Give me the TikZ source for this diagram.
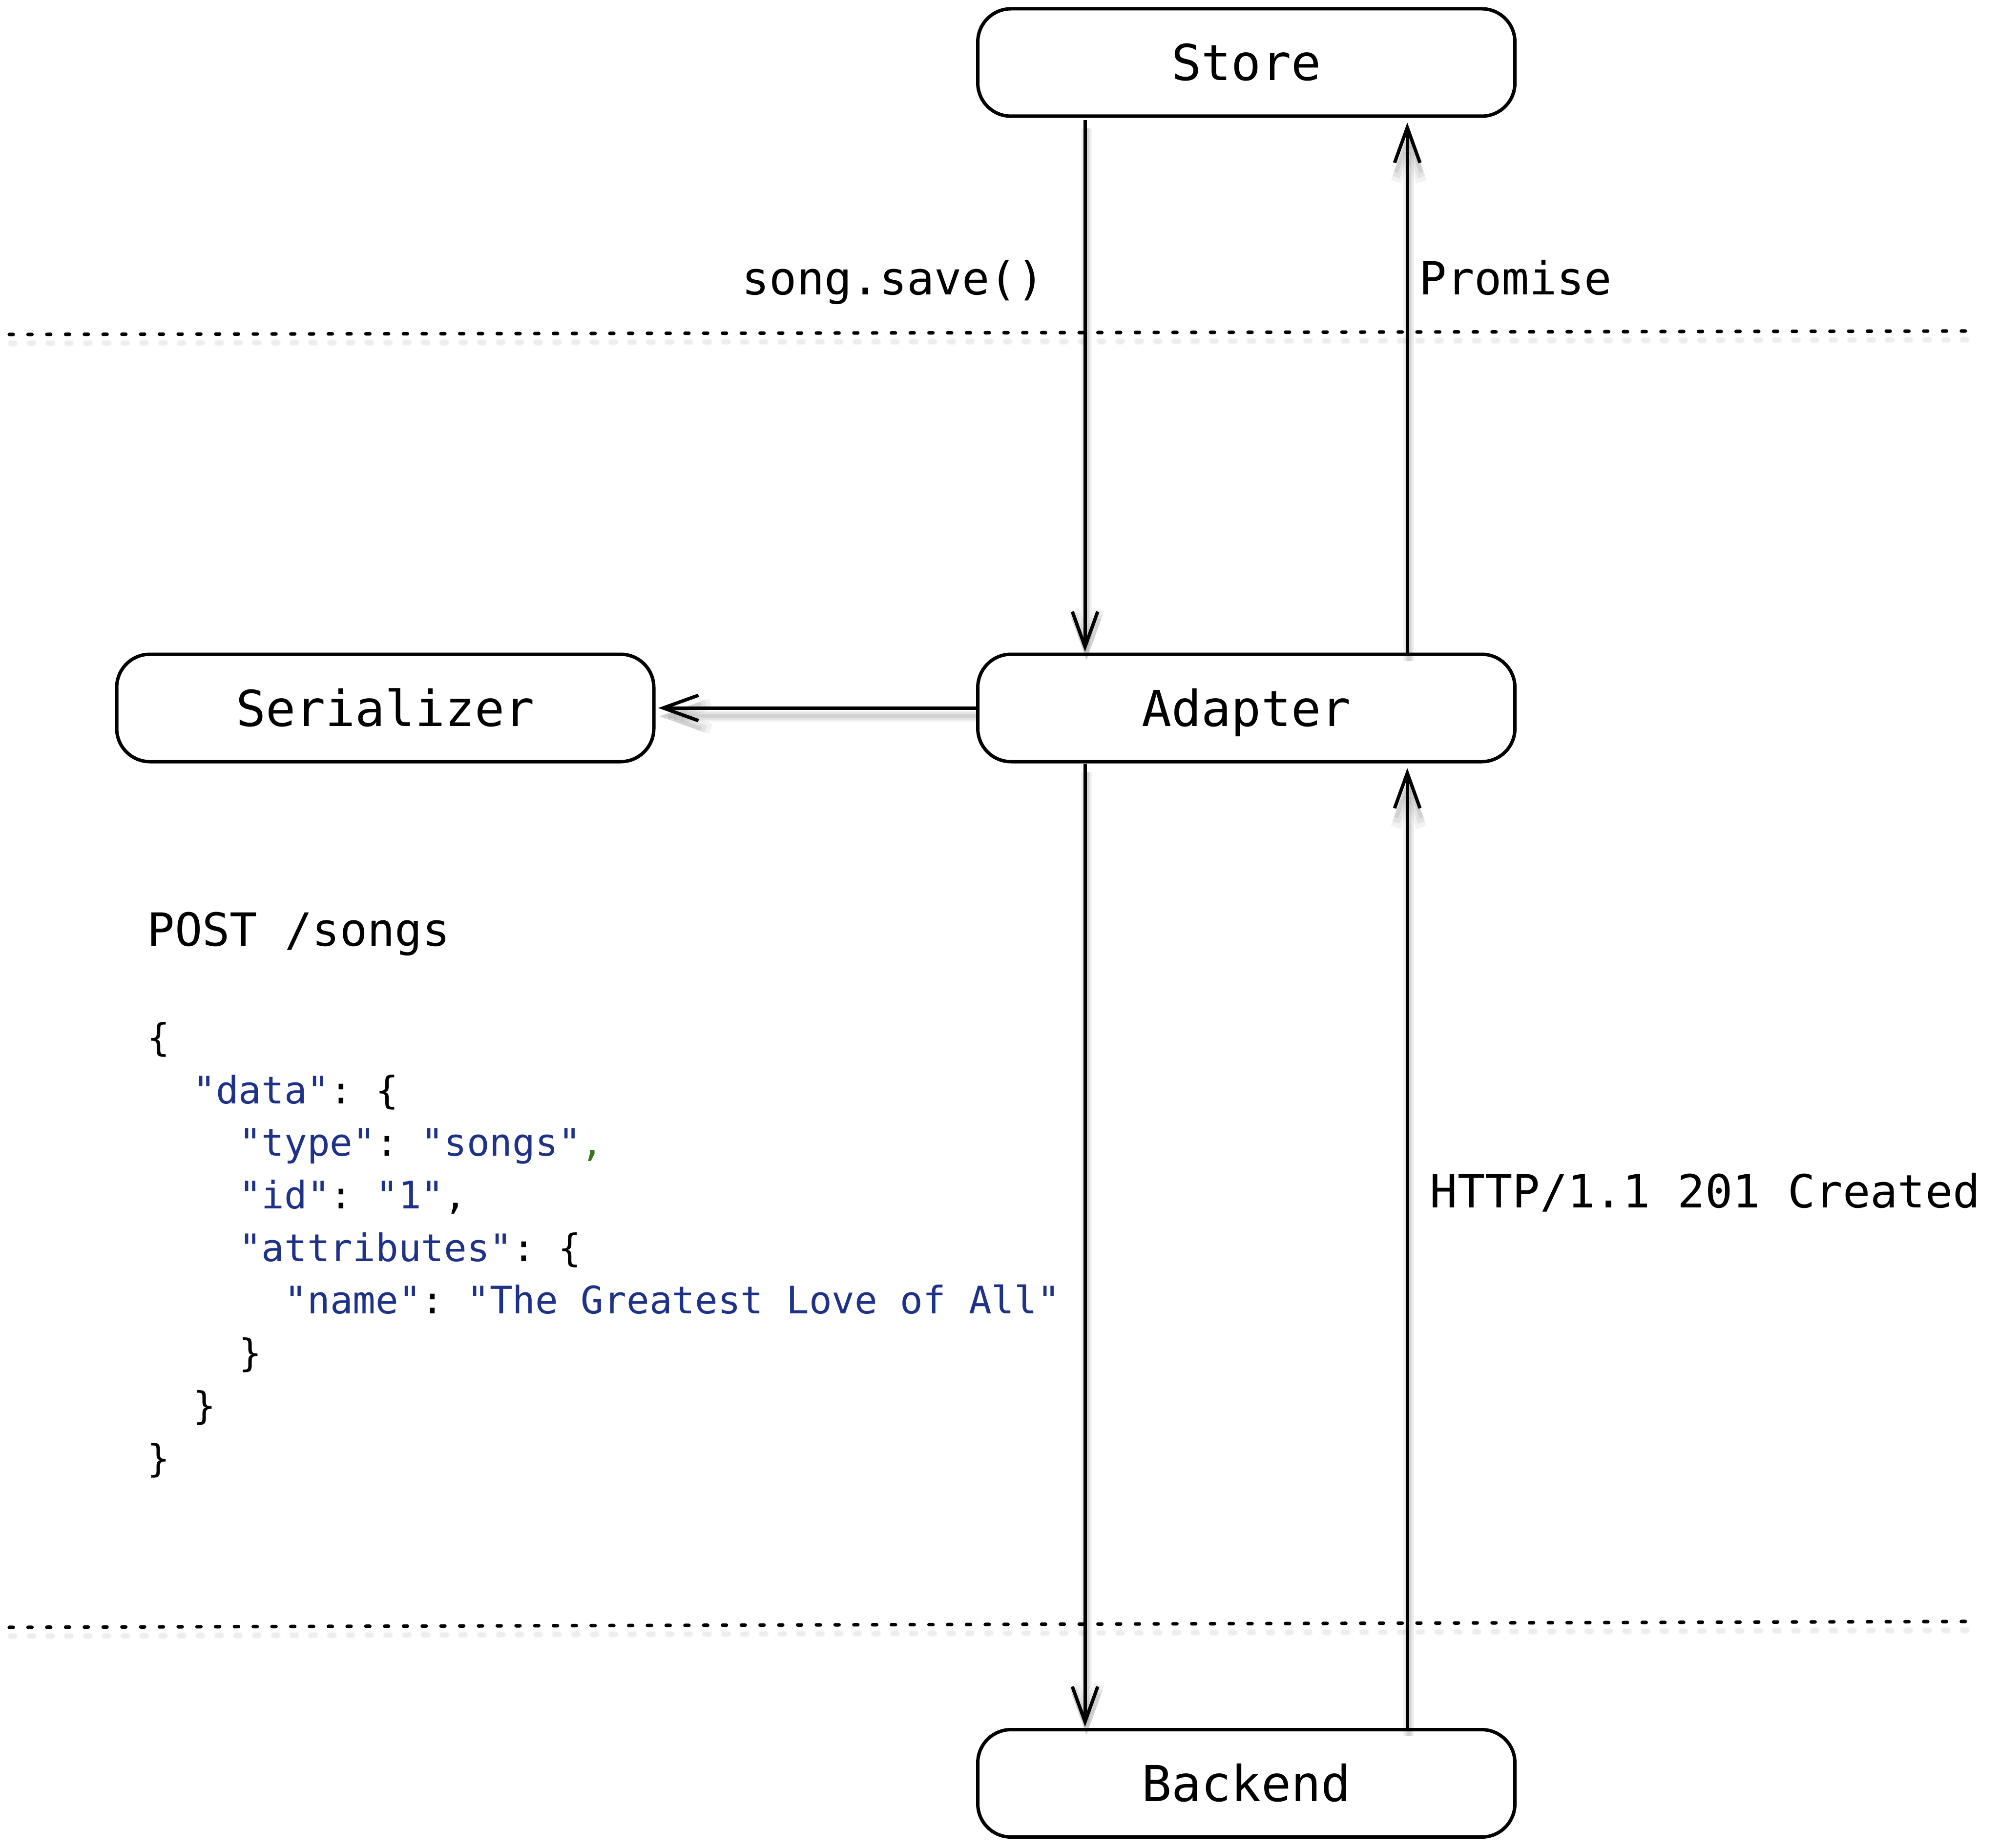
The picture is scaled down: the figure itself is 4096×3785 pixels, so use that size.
\documentclass[tikz,border=0pt]{standalone}
\usepackage{fontspec}
\setmonofont{DejaVu Sans Mono}
\usetikzlibrary{arrows.meta}
\definecolor{jblue}{RGB}{30,50,135}
\definecolor{jgreen}{RGB}{56,118,29}
\newcommand\drawconnectors[1]{%
  \draw[#1, shorten <=1.1pt, shorten >=0.4pt] ([xshift=-82.6pt]store.south) -- ([xshift=-82.6pt]adapter.north);
  \draw[#1, shorten >=2.4pt] ([xshift=82.4pt]adapter.north) -- ([xshift=82.4pt]store.south);
  \draw[#1, shorten <=0.4pt, shorten >=0.6pt] ([xshift=-82.6pt]adapter.south) -- ([xshift=-82.6pt]backend.north);
  \draw[#1, shorten >=2.4pt] ([xshift=82.4pt]backend.north) -- ([xshift=82.4pt]adapter.south);
  \draw[#1, shorten >=1.4pt] (adapter.west) -- (serializer.east);
}
\newcommand\drawdots[1]{%
  \draw[#1] (d1a) -- (d1b);
  \draw[#1] (d2a) -- (d2b);
}
\begin{document}
\begin{tikzpicture}[x=0.25pt,y=-0.25pt,
  box/.style={draw, line width=1.75pt, rounded corners=17pt,
    minimum width=275pt, minimum height=55pt, inner sep=0pt,
    font=\ttfamily\fontsize{25.4}{30}\selectfont,
    text height=18.5pt, text depth=0pt},
  conn/.style={line width=1.75pt, -{Straight Barb[length=18pt,width=13pt,sharp]}},
  dotline/.style={line width=1.8pt, line cap=round, dash pattern=on 2pt off 7.61pt},
  lbl/.style={inner sep=0pt, font=\ttfamily\fontsize{23.4}{28}\selectfont},
  json/.style={inner sep=0pt, anchor=base west, font=\ttfamily\fontsize{19.4}{26.9}\selectfont}
]
\fill[white] (0,0) rectangle (4096,3785);
\useasboundingbox (0,0) rectangle (4096,3785);

% boxes
\node[box] (store) at (2552.5,128) {Store};
\node[box] (adapter) at (2552.5,1450) {Adapter};
\node[box] (serializer) at (789,1450) {Serializer};
\node[box] (backend) at (2552.5,3652.5) {Backend};

% dotted separators
\coordinate (d1a) at (19,685);
\coordinate (d1b) at (4026,678);
\coordinate (d2a) at (19,3333);
\coordinate (d2b) at (4026,3321);

% soft shadows
\begin{scope}[transform canvas={xshift=0.75pt,yshift=-4.5pt}]
  \foreach \lw/\op in {3.4pt/0.03,2.4pt/0.04}{
    \drawdots{dotline, line width=\lw, draw opacity=\op}
  }
\end{scope}
\begin{scope}[transform canvas={xshift=0.75pt,yshift=-4.25pt}]
  \foreach \lw/\op in {5.5pt/0.05,3.8pt/0.06,2.2pt/0.08}{
    \drawconnectors{conn, line width=\lw, draw opacity=\op}
  }
\end{scope}

\drawdots{dotline}
\drawconnectors{conn}

% labels
\node[lbl, anchor=base east] (save) at (2140,604) {song.save()};
\node[lbl, anchor=base west] (promise) at (2906,604) {Promise};
\node[lbl, anchor=base west] (http) at (2928,2473) {HTTP/1.1 201 Created};

% request
\node[lbl, anchor=base west] (post) at (301,1937) {POST /songs};
\node[json] (j1) at (301,2152.4) {\{};
\node[json] (j2) at (394.6,2260.1) {\textcolor{jblue}{"data"}: \{};
\node[json] (j3) at (488.2,2367.8) {\textcolor{jblue}{"type"}: \textcolor{jblue}{"songs"}\textcolor{jgreen}{,}};
\node[json] (j4) at (488.2,2475.5) {\textcolor{jblue}{"id"}: \textcolor{jblue}{"1"},};
\node[json] (j5) at (488.2,2583.2) {\textcolor{jblue}{"attributes"}: \{};
\node[json] (j6) at (581.8,2690.9) {\textcolor{jblue}{"name"}: \textcolor{jblue}{"The Greatest Love of All"}};
\node[json] (j7) at (488.2,2798.6) {\}};
\node[json] (j8) at (394.6,2906.3) {\}};
\node[json] (j9) at (301,3014) {\}};
\end{tikzpicture}
\end{document}
